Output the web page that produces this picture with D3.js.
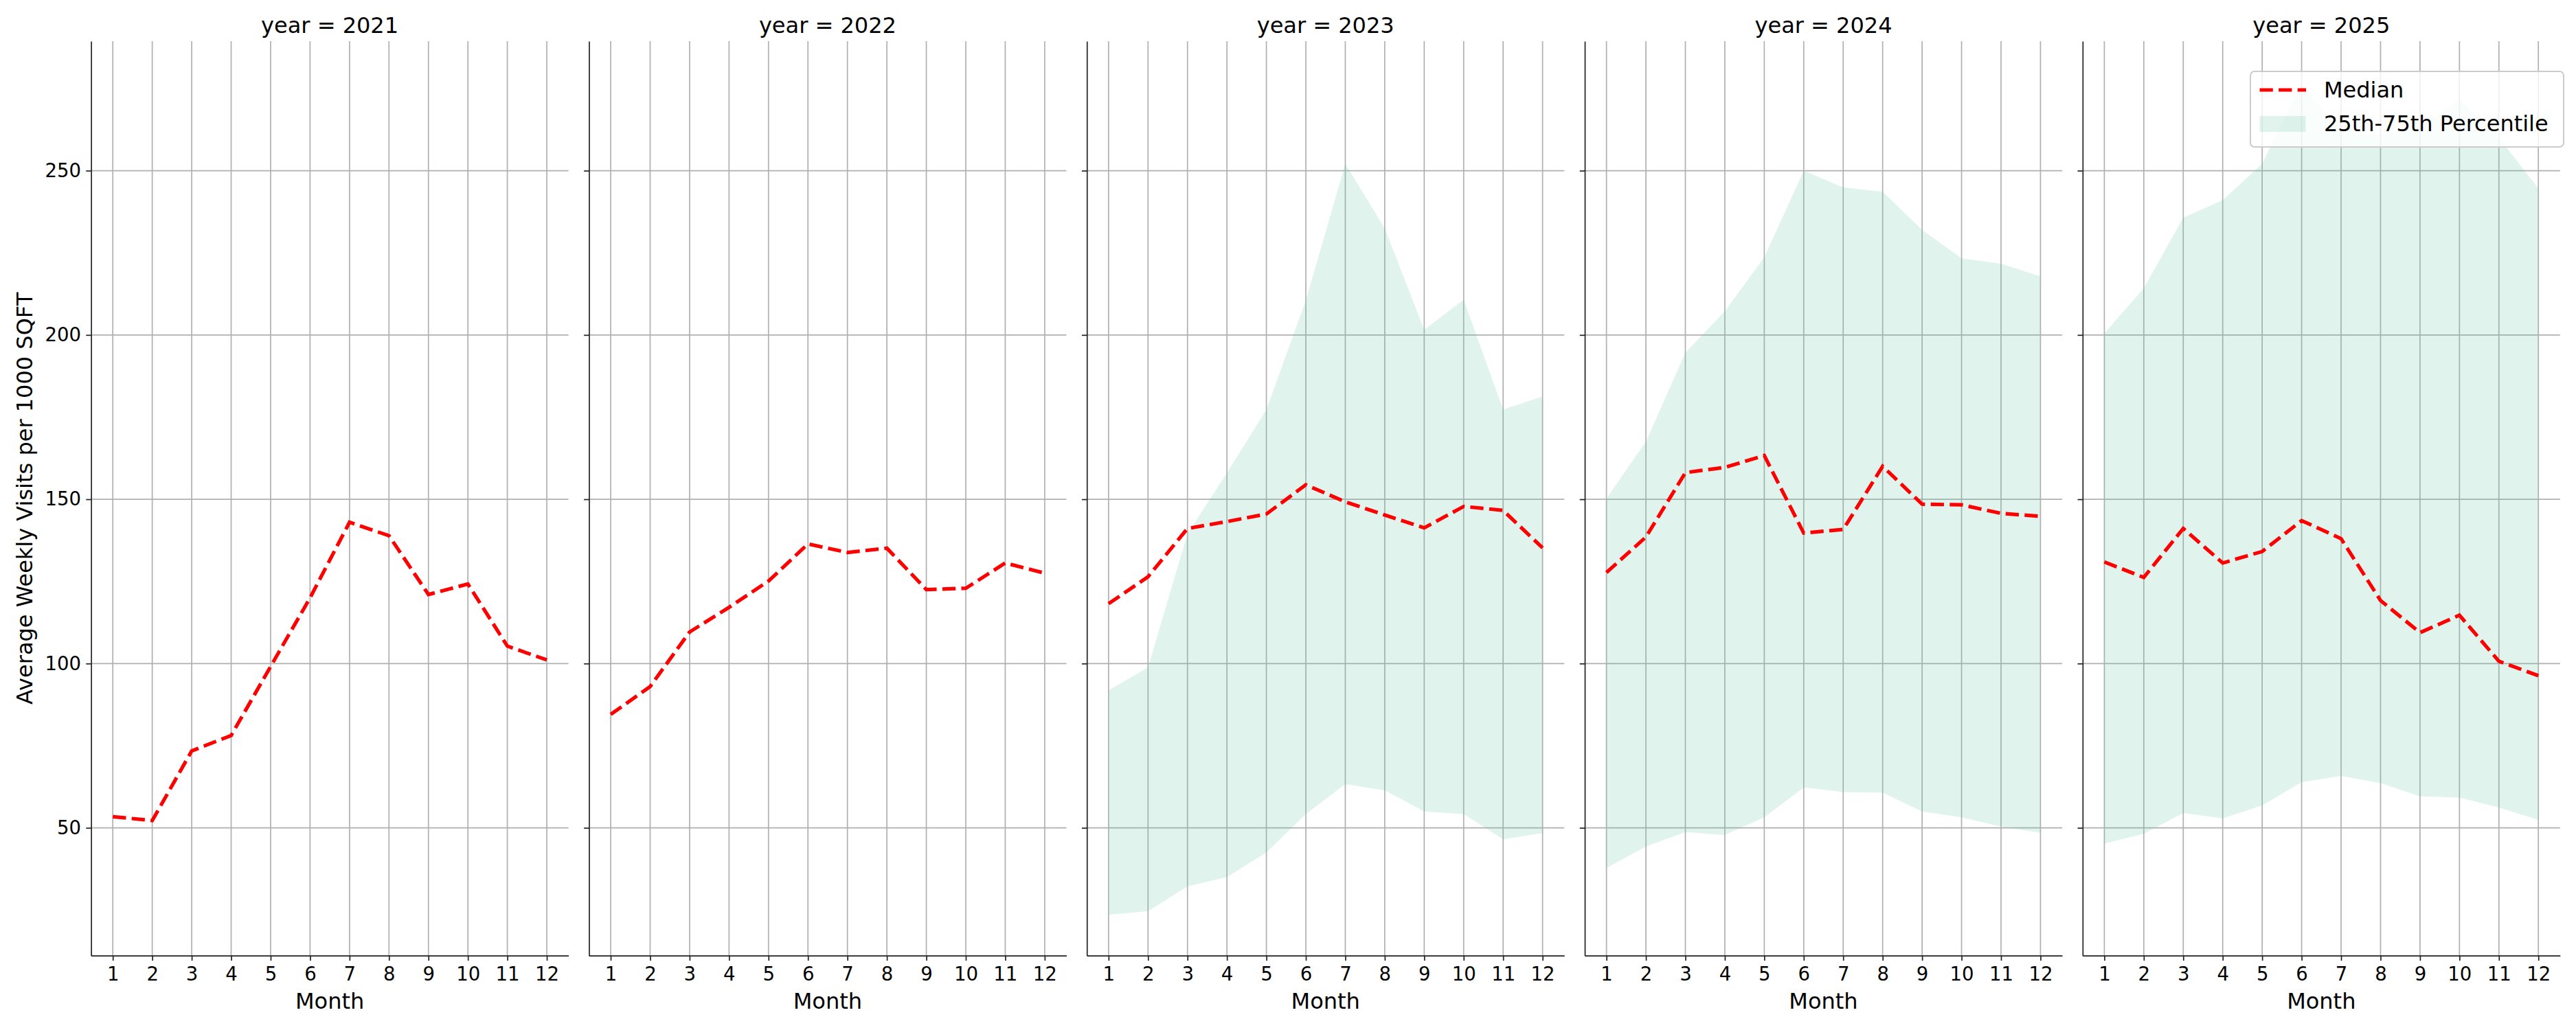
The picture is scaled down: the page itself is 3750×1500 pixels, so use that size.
<!DOCTYPE html>
<html>
<head>
<meta charset="utf-8">
<script src="https://cdn.jsdelivr.net/npm/d3@7"></script>
<style>
  body { margin: 0; background: #fff; }
  text { font-family: "DejaVu Sans", sans-serif; fill: #000; }
</style>
</head>
<body>
<svg id="chart" width="3750" height="1500"></svg>
<script>
const months = [1, 2, 3, 4, 5, 6, 7, 8, 9, 10, 11, 12];
const years = [2021, 2022, 2023, 2024, 2025];
const yTicks = [50, 100, 150, 200, 250];

const median2021 = [53.4, 52.2, 73.4, 78.1, 99.1, 120.0, 143.0, 138.9, 121.0, 124.2, 105.3, 101.1];
const median2022 = [84.5, 93.0, 109.6, 117.1, 125.1, 136.4, 133.8, 135.1, 122.5, 122.9, 130.6, 127.5];
const median2023 = [118.2, 126.4, 141.1, 143.2, 145.5, 154.4, 149.2, 145.2, 141.3, 147.8, 146.6, 135.2];
const median2024 = [127.7, 138.5, 158.1, 159.7, 163.3, 139.7, 140.8, 160.0, 148.5, 148.3, 145.7, 144.8];
const median2025 = [130.9, 126.2, 141.1, 130.6, 134.1, 143.5, 138.0, 119.2, 109.4, 114.7, 100.7, 96.3];

const p25_2023 = [23.6, 24.6, 32.2, 35.0, 42.5, 54.2, 63.3, 61.4, 55.0, 54.2, 46.5, 48.4];
const p75_2023 = [91.8, 98.8, 139.5, 158.0, 177.3, 210.5, 252.1, 232.4, 201.6, 210.7, 177.3, 181.3];
const p25_2024 = [37.8, 44.3, 48.7, 47.8, 53.2, 62.3, 60.9, 60.7, 55.0, 53.2, 50.4, 48.5];
const p75_2024 = [150.2, 167.5, 194.6, 207.2, 223.6, 250.0, 244.9, 243.6, 232.0, 223.3, 221.7, 217.8];
const p25_2025 = [45.2, 48.2, 54.5, 52.9, 56.8, 63.9, 65.8, 63.6, 59.6, 59.2, 56.2, 52.4];
const p75_2025 = [200.5, 214.2, 235.7, 241.0, 252.1, 276.5, 261.5, 261.0, 263.0, 271.7, 260.0, 244.6];

const medians = [median2021, median2022, median2023, median2024, median2025];
const lows = [null, null, p25_2023, p25_2024, p25_2025];
const highs = [null, null, p75_2023, p75_2024, p75_2025];

// layout (px)
const left0 = 132.6;
const pitch = 724.8;
const width = 695;
const plotTop = 60;
const height = 1391.7 - plotTop;

const svg = d3.select("#chart");

const x = d3.scaleLinear().domain([0.45, 12.55]).range([0, width]);
const y = d3.scaleLinear().domain([11.1, 289.4]).range([height, 0]);

const line = d3
  .line()
  .x((d) => x(d.month))
  .y((d) => y(d.value));

const area = d3
  .area()
  .x((d) => x(d.month))
  .y0((d) => y(d.low))
  .y1((d) => y(d.high));

years.forEach((year, i) => {
  const g = svg
    .append("g")
    .attr("transform", `translate(${left0 + i * pitch}, ${plotTop})`);

  // grid
  g.selectAll(".vgrid")
    .data(months)
    .enter()
    .append("line")
    .attr("x1", (d) => x(d))
    .attr("x2", (d) => x(d))
    .attr("y1", 0)
    .attr("y2", height)
    .attr("stroke", "#b0b0b0")
    .attr("stroke-width", 1.7);

  g.selectAll(".hgrid")
    .data(yTicks)
    .enter()
    .append("line")
    .attr("x1", 0)
    .attr("x2", width)
    .attr("y1", (d) => y(d))
    .attr("y2", (d) => y(d))
    .attr("stroke", "#b0b0b0")
    .attr("stroke-width", 1.7);

  // 25th-75th band
  if (lows[i]) {
    const bandData = months.map((m, j) => ({
      month: m,
      low: lows[i][j],
      high: highs[i][j],
    }));
    g.append("path")
      .datum(bandData)
      .attr("fill", "#66c2a5")
      .attr("fill-opacity", 0.2)
      .attr("d", area);
  }

  // median
  const medData = months.map((m, j) => ({ month: m, value: medians[i][j] }));
  g.append("path")
    .datum(medData)
    .attr("fill", "none")
    .attr("stroke", "#ff0000")
    .attr("stroke-width", 5.2)
    .attr("stroke-dasharray", "19.3,8.3")
    .attr("d", line);

  // axes
  const xAxis = g
    .append("g")
    .attr("transform", `translate(0, ${height})`)
    .call(
      d3.axisBottom(x).tickValues(months).tickFormat(d3.format("d"))
        .tickSizeOuter(0).tickSizeInner(7.3).tickPadding(7.3)
    );

  const yAxis = g.append("g").call(
    d3.axisLeft(y).tickValues(yTicks)
      .tickFormat(i === 0 ? d3.format("d") : () => "")
      .tickSizeOuter(0).tickSizeInner(7.3).tickPadding(7.3)
  );

  [xAxis, yAxis].forEach((ax) => {
    ax.select(".domain").attr("stroke", "#222").attr("stroke-width", 1.7);
    ax.selectAll(".tick line").attr("stroke", "#222").attr("stroke-width", 1.7);
    ax.selectAll(".tick text")
      .style("font-family", "DejaVu Sans")
      .style("font-size", "27.5px")
      .attr("fill", "#000");
  });
  xAxis.selectAll(".tick text").attr("dy", "0.78em");

  g.append("text")
    .attr("x", width / 2)
    .attr("y", height + 77)
    .attr("text-anchor", "middle")
    .style("font-size", "32px")
    .text("Month");

  g.append("text")
    .attr("x", width / 2)
    .attr("y", -12)
    .attr("text-anchor", "middle")
    .style("font-size", "32px")
    .text(`year = ${year}`);
});

svg
  .append("text")
  .attr("transform", `translate(47, ${plotTop + height / 2}) rotate(-90)`)
  .attr("text-anchor", "middle")
  .style("font-size", "32px")
  .text("Average Weekly Visits per 1000 SQFT");

// legend
const legend = svg.append("g").attr("transform", "translate(3276, 104)");

legend
  .append("rect")
  .attr("width", 456)
  .attr("height", 110)
  .attr("rx", 6)
  .attr("fill", "#fff")
  .attr("fill-opacity", 0.8)
  .attr("stroke", "#cccccc")
  .attr("stroke-width", 2);

legend
  .append("line")
  .attr("x1", 13.5)
  .attr("x2", 81)
  .attr("y1", 27)
  .attr("y2", 27)
  .attr("stroke", "#ff0000")
  .attr("stroke-width", 5.2)
  .attr("stroke-dasharray", "19.3,8.3");

legend
  .append("rect")
  .attr("x", 13.5)
  .attr("y", 65)
  .attr("width", 67)
  .attr("height", 23)
  .attr("fill", "#66c2a5")
  .attr("fill-opacity", 0.2);

legend
  .append("text")
  .attr("x", 107)
  .attr("y", 38)
  .style("font-size", "32px")
  .text("Median");

legend
  .append("text")
  .attr("x", 107)
  .attr("y", 87)
  .style("font-size", "32px")
  .text("25th-75th Percentile");
</script>
</body>
</html>
